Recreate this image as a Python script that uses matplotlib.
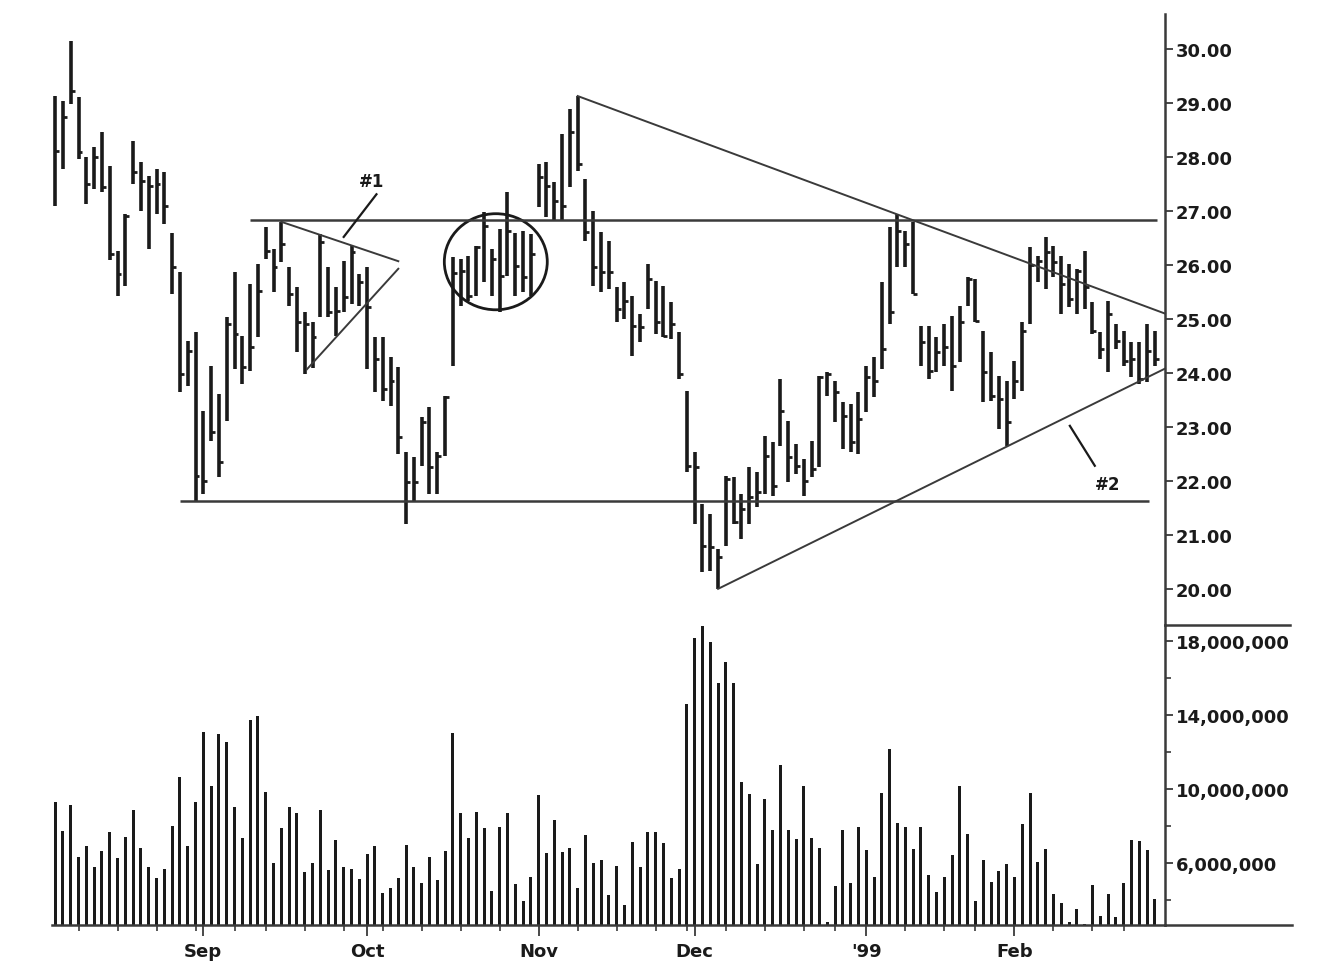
import numpy as np
import pandas as pd
import matplotlib
matplotlib.use("Agg")
import matplotlib.pyplot as plt
from matplotlib.lines import Line2D
from matplotlib.patches import Ellipse
from matplotlib.ticker import FixedLocator, FuncFormatter


# Trading days Aug 5 1998 - Feb 26 1999 (NYSE holidays removed)
HOLIDAYS = ["1998-09-07", "1998-11-26", "1998-12-25",
            "1999-01-01", "1999-01-18", "1999-02-15"]

HIGHS = [29.13, 29.04, 30.15, 29.11, 28.00, 28.19, 28.46, 27.83, 26.26, 26.94,
         28.30, 27.90, 27.65, 27.78, 27.72, 26.60, 25.87, 24.59, 24.76, 23.30,
         24.13, 23.61, 25.04, 25.87, 24.69, 25.65, 26.02, 26.70, 26.30, 26.80,
         25.96, 25.59, 25.13, 24.94, 26.57, 25.96, 25.59, 26.07, 26.35, 25.83,
         25.96, 24.67, 24.67, 24.30, 24.11, 22.54, 22.44, 23.19, 23.37, 22.54,
         23.57, 26.15, 26.11, 26.17, 26.35, 26.98, 26.30, 26.67, 27.35, 26.60,
         26.63, 26.57, 27.87, 27.90, 27.54, 28.43, 28.89, 29.13, 27.59, 27.00,
         26.61, 26.44, 25.59, 25.69, 25.43, 25.09, 26.02, 25.70, 25.61, 25.31,
         24.76, 23.67, 22.54, 21.57, 21.39, 20.74, 22.09, 22.07, 21.76, 22.26,
         22.17, 22.83, 22.72, 23.89, 23.11, 22.69, 22.41, 22.74, 23.94, 24.02,
         23.85, 23.46, 23.43, 23.65, 24.13, 24.30, 25.69, 26.70, 26.94, 26.63,
         26.80, 24.87, 24.87, 24.67, 24.91, 25.06, 25.24, 25.78, 25.74, 24.78,
         24.39, 23.94, 23.85, 24.22, 24.94, 26.33, 26.17, 26.52, 26.35, 26.17,
         26.02, 25.93, 26.26, 25.31, 24.76, 25.33, 24.91, 24.78, 24.57, 24.57,
         24.91, 24.78]

LOWS = [27.09, 27.78, 28.98, 27.96, 27.13, 27.41, 27.35, 26.10, 25.43, 25.61,
        27.50, 27.00, 26.30, 26.94, 26.76, 25.46, 23.65, 23.76, 21.63, 21.76,
        22.74, 22.07, 23.11, 24.07, 23.80, 24.04, 24.67, 26.11, 25.50, 26.05,
        25.24, 24.39, 23.98, 24.09, 25.04, 25.04, 24.69, 25.13, 25.28, 25.24,
        24.07, 23.65, 23.48, 23.39, 22.50, 21.20, 21.63, 22.28, 21.76, 21.76,
        22.46, 24.13, 25.24, 25.33, 25.43, 25.69, 25.43, 25.13, 25.80, 25.43,
        25.50, 25.43, 27.07, 26.89, 26.81, 26.81, 27.44, 27.74, 26.44, 25.61,
        25.50, 25.56, 24.94, 25.00, 24.31, 24.57, 25.19, 24.72, 24.67, 24.63,
        23.89, 22.17, 21.20, 20.31, 20.33, 20.00, 20.80, 21.20, 20.93, 21.20,
        21.52, 21.76, 21.72, 22.65, 21.98, 22.13, 21.72, 22.07, 22.26, 23.57,
        23.09, 22.59, 22.54, 22.50, 23.28, 23.56, 24.07, 24.91, 25.96, 25.96,
        25.46, 24.13, 23.89, 24.02, 24.13, 23.67, 24.20, 25.24, 24.94, 23.46,
        23.48, 22.96, 22.65, 23.52, 23.67, 24.91, 25.69, 25.56, 25.78, 25.09,
        25.22, 25.09, 25.19, 24.72, 24.26, 24.02, 24.44, 24.13, 23.93, 23.80,
        23.83, 24.13]

CLOSES = [28.11, 28.74, 29.22, 28.10, 27.50, 28.00, 27.44, 26.20, 25.83, 26.91,
          27.72, 27.56, 27.46, 27.50, 27.09, 25.96, 23.98, 24.40, 22.09, 22.00,
          22.90, 22.35, 24.90, 24.72, 24.11, 24.48, 25.52, 26.26, 25.96, 26.39,
          25.46, 24.94, 24.91, 24.66, 26.43, 25.13, 25.15, 25.41, 26.24, 25.69,
          25.22, 24.26, 23.70, 23.85, 22.81, 21.98, 21.98, 23.09, 22.26, 22.46,
          23.56, 25.85, 25.89, 25.43, 26.33, 26.72, 26.11, 25.80, 26.63, 25.98,
          25.78, 26.20, 27.63, 27.46, 27.19, 27.09, 28.46, 27.87, 26.61, 25.96,
          25.87, 25.87, 25.19, 25.33, 24.87, 24.85, 25.74, 24.94, 24.69, 24.91,
          23.98, 22.28, 22.26, 20.80, 20.78, 20.59, 22.04, 21.24, 21.48, 21.70,
          21.80, 22.46, 21.91, 23.30, 22.44, 22.28, 22.00, 22.22, 23.93, 23.98,
          23.65, 23.20, 22.72, 23.15, 23.93, 23.85, 24.44, 25.13, 26.63, 26.39,
          25.46, 24.57, 24.04, 24.39, 24.48, 24.13, 24.94, 25.74, 24.96, 24.02,
          23.57, 23.52, 23.09, 23.85, 24.78, 26.00, 26.07, 26.24, 26.06, 25.65,
          25.37, 25.89, 25.59, 24.78, 24.44, 25.09, 24.59, 24.22, 24.26, 23.89,
          24.41, 24.26]

# volume in millions of shares
VOLUMES = [9.31, 7.75, 9.14, 6.34, 6.94, 5.77, 6.63, 7.66, 6.25, 7.39,
           8.88, 6.79, 5.77, 5.17, 5.68, 8.02, 10.63, 6.90, 9.31, 13.06,
           10.15, 12.97, 12.56, 9.04, 7.34, 13.75, 13.93, 9.82, 5.98, 7.88,
           9.01, 8.69, 5.50, 5.98, 8.86, 5.64, 7.26, 5.77, 5.68, 5.14,
           6.49, 6.90, 4.38, 4.63, 5.17, 6.97, 5.77, 4.90, 6.34, 5.08,
           6.66, 13.01, 8.70, 7.35, 8.77, 7.88, 4.50, 7.92, 8.70, 4.86,
           3.96, 5.26, 9.69, 6.52, 8.32, 6.61, 6.79, 4.63, 7.51, 5.98,
           6.18, 4.27, 5.82, 3.73, 7.15, 5.77, 7.69, 7.69, 7.08, 5.17,
           5.68, 14.59, 18.15, 18.82, 17.92, 15.73, 16.88, 15.73, 10.39, 9.73,
           5.95, 9.46, 7.80, 11.31, 7.80, 7.30, 10.15, 7.35, 6.79, 2.79,
           4.74, 7.80, 4.92, 7.92, 6.71, 5.23, 9.78, 12.16, 8.16, 7.93,
           6.76, 7.93, 5.37, 4.45, 5.23, 6.43, 10.18, 7.57, 3.96, 6.18,
           4.98, 5.58, 5.95, 5.23, 8.11, 9.78, 6.07, 6.76, 4.32, 3.84,
           2.83, 3.51, 2.70, 4.81, 3.15, 4.32, 3.06, 4.90, 7.26, 7.20,
           6.71, 4.05]

SUPPORT = 21.63
RESISTANCE = 26.83
# trendlines: (bar index, price) end points
TRI1_UPPER = [(29, 26.80), (44, 26.07)]
TRI1_LOWER = [(32.3, 24.07), (44, 25.93)]
TRI2_UPPER = [(67, 29.13), (142.3, 25.10)]
TRI2_LOWER = [(85, 20.00), (142.3, 24.08)]

INK = "#1a1a1a"
LINE = "#3a3a3a"
FONT = "DejaVu Sans"


def trading_days():
    return pd.bdate_range("1998-08-05", "1999-02-26", freq="C", holidays=HOLIDAYS)


def main():
    dates = trading_days()
    x = np.arange(len(dates))
    vol = np.array(VOLUMES) * 1e6

    W, H = 1330, 978
    fig = plt.figure(figsize=(W / 100, H / 100), dpi=100)
    fig.patch.set_facecolor("white")

    left, right = 52, 1165
    ax = fig.add_axes([left / W, 1 - 626 / H, (right - left) / W, (626 - 15) / H])
    axv = fig.add_axes([left / W, 1 - 926 / H, (right - left) / W, (926 - 626) / H],
                       sharex=ax)

    # price bars (high-low with close tick)
    ax.vlines(x, LOWS, HIGHS, color=INK, linewidth=2.6)
    ax.hlines(CLOSES, x, x + 0.5, color=INK, linewidth=2.0)

    # support / resistance
    ax.hlines(RESISTANCE, 25, 141.3, color=LINE, linewidth=1.8)
    ax.hlines(SUPPORT, 16, 140.3, color=LINE, linewidth=1.8)

    for seg in (TRI1_UPPER, TRI1_LOWER, TRI2_UPPER, TRI2_LOWER):
        (x0, y0), (x1, y1) = seg
        ax.plot([x0, x1], [y0, y1], color=LINE, linewidth=1.4, clip_on=False)

    ax.add_patch(Ellipse((56.5, 26.06), 13.2, 1.78, fill=False,
                         edgecolor=INK, linewidth=2.0))

    # labels with leader lines
    ax.plot([41.2, 37.0], [27.31, 26.52], color=INK, linewidth=1.6)
    ax.text(40.6, 27.55, "#1", ha="center", va="center", fontsize=12,
            fontweight="bold", family=FONT, color=INK)
    ax.plot([130.1, 133.3], [23.02, 22.28], color=INK, linewidth=1.6)
    ax.text(134.9, 21.95, "#2", ha="center", va="center", fontsize=12,
            fontweight="bold", family=FONT, color=INK)

    ax.set_xlim(-0.4, 142.3)
    ax.set_ylim(19.33, 30.65)
    ax.set_yticks(np.arange(20, 31, 1))
    ax.yaxis.set_major_formatter(FuncFormatter(lambda v, _: f"{v:.2f}"))

    # volume
    axv.bar(x, vol, width=0.4, color=INK, linewidth=0)
    axv.set_ylim(2.65e6, 18.86e6)
    axv.yaxis.set_major_locator(FixedLocator([6e6, 10e6, 14e6, 18e6]))
    axv.yaxis.set_minor_locator(FixedLocator([4e6, 8e6, 12e6, 16e6]))
    axv.yaxis.set_major_formatter(FuncFormatter(lambda v, _: f"{v:,.0f}"))

    # month and week ticks from the trading calendar
    months = [i for i in range(len(dates)) if i > 0 and dates[i].month != dates[i - 1].month]
    weeks = [i for i in range(len(dates))
             if i > 0 and dates[i].weekday() < dates[i - 1].weekday() and i not in months]
    labels = ["'99" if dates[i].month == 1 else dates[i].strftime("%b") for i in months]
    axv.xaxis.set_major_locator(FixedLocator(months))
    axv.xaxis.set_minor_locator(FixedLocator(weeks))
    axv.set_xticklabels(labels)

    for a in (ax, axv):
        a.set_facecolor("none")
        for s in ("left", "top", "bottom"):
            a.spines[s].set_visible(False)
        a.spines["right"].set_color(LINE)
        a.spines["right"].set_linewidth(1.8)
        a.yaxis.tick_right()
        a.tick_params(axis="y", which="major", direction="out", length=6, width=1.3,
                      color=LINE, pad=2, labelsize=13, labelcolor=INK)
        a.tick_params(axis="y", which="minor", direction="out", length=4, width=1.2,
                      color=LINE)
        for t in a.get_yticklabels():
            t.set_fontweight("bold")
            t.set_family(FONT)

    axv.spines["bottom"].set_visible(True)
    axv.spines["bottom"].set_color(LINE)
    axv.spines["bottom"].set_linewidth(1.8)
    ax.tick_params(axis="x", which="both", bottom=False, labelbottom=False)
    axv.tick_params(axis="x", which="major", direction="out", length=8, width=1.3,
                    color=LINE, pad=4, labelsize=13, labelcolor=INK)
    axv.tick_params(axis="x", which="minor", direction="out", length=4, width=1.2,
                    color=LINE)
    for t in axv.get_xticklabels():
        t.set_fontweight("bold")
        t.set_family(FONT)

    # separator between panels and baseline extension to the right edge
    fig.add_artist(Line2D([right / W, 1290 / W], [1 - 626 / H, 1 - 626 / H],
                          color=LINE, linewidth=1.8))
    fig.add_artist(Line2D([right / W, 1292 / W], [1 - 926 / H, 1 - 926 / H],
                          color=LINE, linewidth=1.8))

    fig.savefig("out.png", dpi=100, facecolor="white")


if __name__ == "__main__":
    main()
